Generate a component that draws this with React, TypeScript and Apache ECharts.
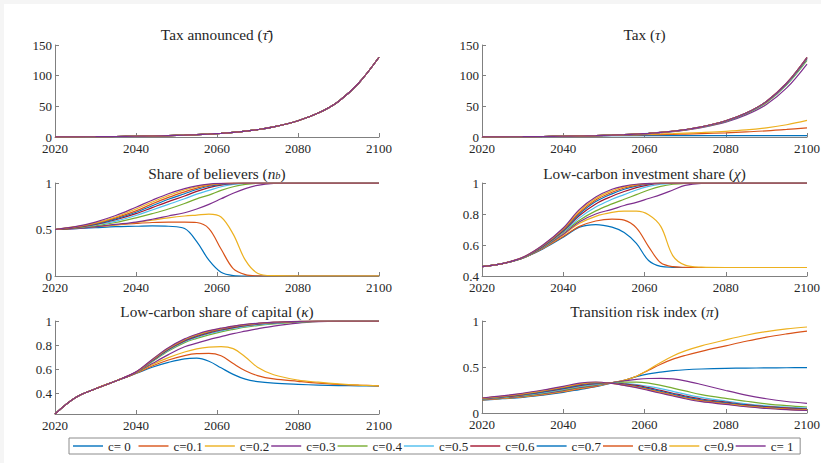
import React, { useEffect, useRef } from "react";
import * as echarts from "echarts";

// Simulation years (denser sampling where the paths turn quickly)
const YEARS = [2020, 2025, 2030, 2035, 2040, 2044, 2048, 2052, 2055, 2058, 2061, 2064, 2067, 2070, 2074, 2080, 2085, 2090, 2095, 2100];

// Credibility parameter c, one curve per value
const C_LABELS = ["c= 0", "c=0.1", "c=0.2", "c=0.3", "c=0.4", "c=0.5", "c=0.6", "c=0.7", "c=0.8", "c=0.9", "c= 1"];
const COLORS = ["#0072BD", "#D95319", "#EDB120", "#7E2F8E", "#77AC30", "#4DBEEE", "#A2142F", "#0072BD", "#D95319", "#EDB120", "#7E2F8E"];

// Announced carbon tax path (identical for every c)
const TAX_ANNOUNCED = [0.2, 0.35, 0.55, 0.8, 1.2, 1.6, 2.2, 3.0, 3.8, 4.8, 6.0, 7.5, 9.5, 12, 16.5, 26.5, 39, 58, 88, 130];

// Implemented carbon tax, rows c = 0 ... 1
const TAX = [
  [0.2, 0.35, 0.55, 0.8, 1.1, 1.4, 1.8, 2.1, 2.2, 2.2, 2.2, 2.2, 2.2, 2.2, 2.2, 2.2, 2.2, 2.2, 2.2, 2.2],
  [0.2, 0.35, 0.55, 0.8, 1.2, 1.6, 2.1, 2.7, 3.1, 3.4, 3.7, 4.0, 4.4, 4.8, 5.5, 6.8, 8.3, 10, 12.3, 15],
  [0.2, 0.35, 0.55, 0.8, 1.2, 1.6, 2.2, 2.9, 3.5, 4.0, 4.5, 5.0, 5.6, 6.3, 7.3, 9.2, 11.5, 15, 20, 27],
  [0.2, 0.35, 0.55, 0.8, 1.2, 1.6, 2.2, 2.9, 3.6, 4.5, 5.6, 7.0, 8.8, 11.1, 15.2, 24.3, 36, 53, 80, 119],
  [0.2, 0.35, 0.55, 0.8, 1.2, 1.6, 2.2, 3.0, 3.8, 4.7, 5.9, 7.3, 9.2, 11.7, 16.0, 25.5, 37.8, 56, 85, 125],
  [0.2, 0.35, 0.55, 0.8, 1.2, 1.6, 2.2, 3.0, 3.8, 4.8, 5.9, 7.4, 9.3, 11.8, 16.2, 26, 38.4, 57, 86, 127],
  [0.2, 0.35, 0.55, 0.8, 1.2, 1.6, 2.2, 3.0, 3.8, 4.8, 6.0, 7.4, 9.4, 11.9, 16.3, 26.2, 38.7, 57.5, 87, 128],
  [0.2, 0.35, 0.55, 0.8, 1.2, 1.6, 2.2, 3.0, 3.8, 4.8, 6.0, 7.5, 9.4, 11.9, 16.4, 26.4, 38.9, 57.8, 87.5, 129],
  [0.2, 0.35, 0.55, 0.8, 1.2, 1.6, 2.2, 3.0, 3.8, 4.8, 6.0, 7.5, 9.5, 12, 16.5, 26.5, 39, 58, 88, 129.5],
  [0.2, 0.35, 0.55, 0.8, 1.2, 1.6, 2.2, 3.0, 3.8, 4.8, 6.0, 7.5, 9.5, 12, 16.5, 26.5, 39, 58, 88, 130],
  [0.2, 0.35, 0.55, 0.8, 1.2, 1.6, 2.2, 3.0, 3.8, 4.8, 6.0, 7.5, 9.5, 12, 16.5, 26.5, 39, 58, 88, 130],
];

// Share of believers n_b
const BELIEVERS = [
  [0.50, 0.51, 0.52, 0.53, 0.535, 0.54, 0.535, 0.51, 0.37, 0.17, 0.04, 0.005, 0, 0, 0, 0, 0, 0, 0, 0],
  [0.50, 0.515, 0.53, 0.55, 0.565, 0.575, 0.58, 0.58, 0.575, 0.51, 0.29, 0.08, 0.015, 0.002, 0, 0, 0, 0, 0, 0],
  [0.50, 0.515, 0.53, 0.55, 0.575, 0.60, 0.625, 0.645, 0.655, 0.665, 0.635, 0.45, 0.17, 0.03, 0.003, 0, 0, 0, 0, 0],
  [0.50, 0.51, 0.53, 0.555, 0.58, 0.61, 0.645, 0.68, 0.72, 0.77, 0.83, 0.89, 0.94, 0.975, 0.995, 1, 1, 1, 1, 1],
  [0.50, 0.515, 0.54, 0.575, 0.625, 0.67, 0.72, 0.78, 0.83, 0.87, 0.92, 0.96, 0.985, 0.997, 1, 1, 1, 1, 1, 1],
  [0.50, 0.52, 0.55, 0.59, 0.65, 0.71, 0.77, 0.83, 0.88, 0.92, 0.96, 0.985, 0.996, 1, 1, 1, 1, 1, 1, 1],
  [0.50, 0.52, 0.555, 0.605, 0.67, 0.735, 0.80, 0.86, 0.91, 0.95, 0.978, 0.992, 0.998, 1, 1, 1, 1, 1, 1, 1],
  [0.50, 0.525, 0.56, 0.615, 0.685, 0.755, 0.825, 0.885, 0.93, 0.965, 0.985, 0.995, 1, 1, 1, 1, 1, 1, 1, 1],
  [0.50, 0.525, 0.565, 0.625, 0.70, 0.775, 0.845, 0.905, 0.945, 0.975, 0.99, 0.998, 1, 1, 1, 1, 1, 1, 1, 1],
  [0.50, 0.53, 0.57, 0.635, 0.72, 0.795, 0.865, 0.925, 0.96, 0.983, 0.994, 1, 1, 1, 1, 1, 1, 1, 1, 1],
  [0.50, 0.53, 0.58, 0.65, 0.74, 0.815, 0.885, 0.94, 0.97, 0.988, 0.996, 1, 1, 1, 1, 1, 1, 1, 1, 1],
];

// Low-carbon investment share chi
const INVESTMENT = [
  [0.46, 0.48, 0.515, 0.575, 0.65, 0.715, 0.732, 0.715, 0.68, 0.61, 0.50, 0.462, 0.456, 0.455, 0.455, 0.455, 0.455, 0.455, 0.455, 0.455],
  [0.46, 0.48, 0.515, 0.578, 0.655, 0.72, 0.755, 0.767, 0.76, 0.71, 0.59, 0.485, 0.46, 0.456, 0.455, 0.455, 0.455, 0.455, 0.455, 0.455],
  [0.46, 0.48, 0.515, 0.58, 0.665, 0.74, 0.785, 0.81, 0.818, 0.818, 0.795, 0.72, 0.53, 0.47, 0.457, 0.455, 0.455, 0.455, 0.455, 0.455],
  [0.46, 0.48, 0.515, 0.582, 0.67, 0.75, 0.80, 0.83, 0.855, 0.875, 0.90, 0.925, 0.955, 0.985, 0.998, 1, 1, 1, 1, 1],
  [0.46, 0.48, 0.515, 0.585, 0.68, 0.76, 0.82, 0.865, 0.895, 0.925, 0.955, 0.978, 0.992, 0.998, 1, 1, 1, 1, 1, 1],
  [0.46, 0.48, 0.517, 0.588, 0.685, 0.775, 0.845, 0.895, 0.925, 0.955, 0.978, 0.992, 0.998, 1, 1, 1, 1, 1, 1, 1],
  [0.46, 0.48, 0.518, 0.591, 0.69, 0.79, 0.865, 0.915, 0.945, 0.97, 0.988, 0.997, 1, 1, 1, 1, 1, 1, 1, 1],
  [0.46, 0.48, 0.518, 0.594, 0.695, 0.80, 0.88, 0.93, 0.96, 0.98, 0.993, 0.999, 1, 1, 1, 1, 1, 1, 1, 1],
  [0.46, 0.48, 0.519, 0.596, 0.70, 0.81, 0.89, 0.94, 0.968, 0.985, 0.995, 1, 1, 1, 1, 1, 1, 1, 1, 1],
  [0.46, 0.48, 0.52, 0.598, 0.705, 0.82, 0.90, 0.95, 0.975, 0.99, 0.997, 1, 1, 1, 1, 1, 1, 1, 1, 1],
  [0.46, 0.48, 0.52, 0.60, 0.71, 0.83, 0.91, 0.96, 0.98, 0.992, 0.998, 1, 1, 1, 1, 1, 1, 1, 1, 1],
];

// Low-carbon share of capital kappa
const CAPITAL = [
  [0.225, 0.36, 0.435, 0.50, 0.562, 0.615, 0.655, 0.685, 0.69, 0.665, 0.61, 0.555, 0.515, 0.495, 0.482, 0.472, 0.466, 0.462, 0.46, 0.458],
  [0.225, 0.36, 0.435, 0.50, 0.564, 0.625, 0.675, 0.712, 0.728, 0.73, 0.71, 0.645, 0.585, 0.545, 0.517, 0.497, 0.482, 0.472, 0.465, 0.46],
  [0.225, 0.36, 0.435, 0.50, 0.566, 0.635, 0.695, 0.742, 0.768, 0.783, 0.787, 0.77, 0.70, 0.615, 0.552, 0.508, 0.49, 0.476, 0.466, 0.46],
  [0.225, 0.36, 0.435, 0.50, 0.568, 0.645, 0.72, 0.785, 0.815, 0.845, 0.87, 0.895, 0.915, 0.935, 0.958, 0.983, 0.994, 0.999, 1, 1],
  [0.225, 0.36, 0.435, 0.50, 0.57, 0.66, 0.75, 0.82, 0.855, 0.885, 0.91, 0.93, 0.948, 0.962, 0.975, 0.99, 0.997, 1, 1, 1],
  [0.225, 0.36, 0.435, 0.50, 0.571, 0.665, 0.757, 0.828, 0.864, 0.894, 0.918, 0.938, 0.955, 0.968, 0.98, 0.993, 0.998, 1, 1, 1],
  [0.225, 0.36, 0.435, 0.50, 0.572, 0.668, 0.762, 0.834, 0.871, 0.901, 0.925, 0.945, 0.961, 0.974, 0.985, 0.995, 0.999, 1, 1, 1],
  [0.225, 0.36, 0.435, 0.50, 0.573, 0.671, 0.766, 0.839, 0.877, 0.907, 0.93, 0.95, 0.965, 0.977, 0.987, 0.996, 1, 1, 1, 1],
  [0.225, 0.36, 0.435, 0.50, 0.574, 0.674, 0.77, 0.843, 0.882, 0.912, 0.934, 0.953, 0.968, 0.979, 0.988, 0.996, 1, 1, 1, 1],
  [0.225, 0.36, 0.435, 0.50, 0.575, 0.677, 0.774, 0.847, 0.886, 0.916, 0.937, 0.956, 0.97, 0.98, 0.989, 0.997, 1, 1, 1, 1],
  [0.225, 0.36, 0.435, 0.50, 0.576, 0.68, 0.778, 0.851, 0.89, 0.92, 0.94, 0.958, 0.972, 0.981, 0.99, 0.997, 1, 1, 1, 1],
];

// Transition risk index pi
const RISK = [
  [0.140, 0.155, 0.170, 0.195, 0.225, 0.255, 0.285, 0.328, 0.355, 0.395, 0.425, 0.445, 0.46, 0.47, 0.478, 0.485, 0.488, 0.49, 0.492, 0.493],
  [0.142, 0.158, 0.175, 0.200, 0.231, 0.262, 0.290, 0.329, 0.355, 0.40, 0.465, 0.53, 0.585, 0.625, 0.67, 0.73, 0.78, 0.825, 0.86, 0.89],
  [0.145, 0.161, 0.179, 0.206, 0.238, 0.269, 0.296, 0.33, 0.355, 0.40, 0.47, 0.55, 0.62, 0.675, 0.73, 0.795, 0.845, 0.885, 0.915, 0.935],
  [0.147, 0.164, 0.184, 0.211, 0.244, 0.276, 0.301, 0.33, 0.35, 0.365, 0.375, 0.377, 0.37, 0.35, 0.31, 0.245, 0.195, 0.155, 0.125, 0.105],
  [0.150, 0.168, 0.188, 0.217, 0.251, 0.283, 0.306, 0.33, 0.335, 0.335, 0.325, 0.30, 0.27, 0.24, 0.20, 0.158, 0.128, 0.10, 0.08, 0.065],
  [0.152, 0.171, 0.193, 0.222, 0.257, 0.290, 0.312, 0.327, 0.32, 0.31, 0.29, 0.265, 0.235, 0.205, 0.17, 0.13, 0.10, 0.078, 0.063, 0.053],
  [0.155, 0.174, 0.197, 0.228, 0.264, 0.297, 0.318, 0.326, 0.315, 0.30, 0.275, 0.245, 0.215, 0.185, 0.152, 0.118, 0.09, 0.069, 0.055, 0.045],
  [0.157, 0.177, 0.202, 0.233, 0.270, 0.304, 0.324, 0.325, 0.31, 0.29, 0.265, 0.235, 0.205, 0.175, 0.143, 0.11, 0.083, 0.063, 0.049, 0.04],
  [0.159, 0.180, 0.206, 0.239, 0.277, 0.311, 0.329, 0.324, 0.305, 0.285, 0.255, 0.225, 0.195, 0.165, 0.134, 0.103, 0.077, 0.058, 0.044, 0.035],
  [0.161, 0.183, 0.211, 0.244, 0.283, 0.318, 0.333, 0.323, 0.30, 0.28, 0.25, 0.22, 0.19, 0.16, 0.128, 0.098, 0.072, 0.053, 0.04, 0.031],
  [0.163, 0.187, 0.215, 0.250, 0.290, 0.325, 0.337, 0.322, 0.30, 0.275, 0.245, 0.215, 0.185, 0.155, 0.123, 0.093, 0.068, 0.049, 0.036, 0.027],
];

// Axis tick values for each panel
const X_TICKS = [2020, 2040, 2060, 2080, 2100];
const TAX_TICKS = [0, 50, 100, 150];
const SHARE_TICKS = [0, 0.5, 1];
const CHI_TICKS = [0.4, 0.6, 0.8, 1];
const KAPPA_TICKS = [0.4, 0.6, 0.8, 1];

const FONT = "Liberation Serif, serif";
const TEXT = "#262626";
const AXIS = "#808080";

const PANELS = [
  { title: "Tax announced ({m|τ̄})", rows: C_LABELS.map(() => TAX_ANNOUNCED), min: 0, max: 150, ticks: TAX_TICKS, box: { left: 55, top: 45, width: 324, height: 92 } },
  { title: "Tax ({m|τ})", rows: TAX, min: 0, max: 150, ticks: TAX_TICKS, box: { left: 482, top: 45, width: 325, height: 92 } },
  { title: "Share of believers ({m|n}{s|b})", rows: BELIEVERS, min: 0, max: 1, ticks: SHARE_TICKS, box: { left: 55, top: 183, width: 324, height: 93 } },
  { title: "Low-carbon investment share ({m|χ})", rows: INVESTMENT, min: 0.4, max: 1, ticks: CHI_TICKS, box: { left: 482, top: 183, width: 325, height: 93 } },
  { title: "Low-carbon share of capital ({m|κ})", rows: CAPITAL, min: 0.225, max: 1, ticks: KAPPA_TICKS, box: { left: 55, top: 321, width: 324, height: 93 } },
  { title: "Transition risk index ({m|π})", rows: RISK, min: 0, max: 1, ticks: SHARE_TICKS, box: { left: 482, top: 321, width: 325, height: 92 } },
];

const TITLE_Y = [34, 34, 173, 173, 311, 311];
const TITLE_SIZE = 15.3;

function buildOption() {
  const grid = PANELS.map((p) => ({ ...p.box, containLabel: false, outerBoundsMode: "none" }));

  const xAxis = PANELS.map((_, i) => ({
    type: "value",
    gridIndex: i,
    min: 2020,
    max: 2100,
    interval: 20,
    axisLine: { show: true, onZero: false, lineStyle: { color: AXIS, width: 1 } },
    axisTick: { show: true, inside: true, length: 4, lineStyle: { color: AXIS }, customValues: X_TICKS },
    axisLabel: { show: true, margin: 6, lineHeight: 10, fontFamily: FONT, fontSize: 13, color: TEXT, customValues: X_TICKS, formatter: (v: number) => String(v) },
    splitLine: { show: false },
  }));

  const yAxis = PANELS.map((p, i) => ({
    type: "value",
    gridIndex: i,
    min: p.min,
    max: p.max,
    axisLine: { show: true, onZero: false, lineStyle: { color: AXIS, width: 1 } },
    axisTick: { show: true, inside: true, length: 4, lineStyle: { color: AXIS }, customValues: p.ticks },
    axisLabel: { show: true, margin: 3, lineHeight: 10, fontFamily: FONT, fontSize: 13, color: TEXT, customValues: p.ticks, formatter: (v: number) => String(+v.toFixed(2)) },
    splitLine: { show: false },
  }));

  const series: any[] = [];
  PANELS.forEach((p, i) => {
    p.rows.forEach((row, c) => {
      series.push({
        type: "line",
        name: C_LABELS[c],
        xAxisIndex: i,
        yAxisIndex: i,
        data: YEARS.map((yr, k) => [yr, row[k]]),
        symbol: "none",
        showSymbol: false,
        smooth: 0.35,
        silent: true,
        clip: true,
        lineStyle: { width: 1.2, color: COLORS[c] },
        itemStyle: { color: COLORS[c] },
      });
    });
  });

  const titles = PANELS.map((p, i) => ({
    type: "text",
    x: p.box.left + p.box.width / 2,
    y: TITLE_Y[i],
    silent: true,
    style: {
      text: p.title,
      fill: TEXT,
      fontFamily: FONT,
      fontSize: TITLE_SIZE,
      align: "center",
      verticalAlign: "middle",
      rich: {
        m: { fontFamily: FONT, fontSize: TITLE_SIZE, fontStyle: "italic", fill: TEXT },
        s: { fontFamily: FONT, fontSize: 10.5, fontStyle: "italic", fill: TEXT, verticalAlign: "bottom", lineHeight: 6 },
      },
    },
  }));

  return {
    animation: false,
    backgroundColor: "#ffffff",
    textStyle: { fontFamily: FONT },
    grid,
    xAxis,
    yAxis,
    series,
    legend: {
      data: C_LABELS,
      left: 69,
      top: 438,
      orient: "horizontal",
      icon: "rect",
      itemWidth: 30,
      itemHeight: 1.4,
      itemGap: 2,
      padding: [1, 1, 1, 4],
      borderColor: "#8c8c8c",
      borderWidth: 1,
      backgroundColor: "#ffffff",
      selectedMode: false,
      formatter: (name: string) => `{t|${name}}`,
      textStyle: {
        fontFamily: FONT,
        fontSize: 13,
        color: TEXT,
        rich: { t: { width: 28.5, height: 14, lineHeight: 14, fontFamily: FONT, fontSize: 13, color: TEXT } },
      },
    },
    graphic: [
      { type: "rect", silent: true, shape: { x: 0, y: 0, width: 821, height: 4 }, style: { fill: "#f5f5f5" } },
      { type: "rect", silent: true, shape: { x: 0, y: 0, width: 4, height: 463 }, style: { fill: "#f5f5f5" } },
      ...titles,
    ],
  };
}

export default function App() {
  const ref = useRef<HTMLDivElement>(null);
  useEffect(() => {
    if (!ref.current) return;
    const chart = echarts.init(ref.current, null, { renderer: "svg" });
    chart.setOption(buildOption() as any);
    return () => chart.dispose();
  }, []);
  return <div ref={ref} style={{ position: "absolute", left: 0, top: 0, width: 821, height: 463 }} />;
}
